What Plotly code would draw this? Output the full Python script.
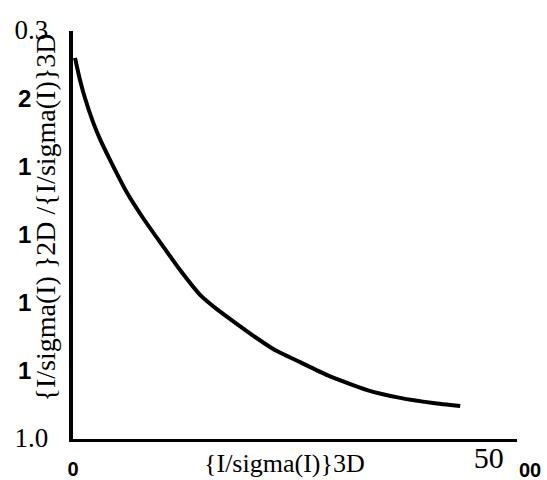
import plotly.graph_objects as go

# Curve data
x_vals = [0.24, 0.84, 1.44, 2.41, 3.25, 4.45, 6.50, 8.42, 10.47, 12.88, 15.28, 17.45,
          19.74, 21.90, 24.07, 27.32, 30.57, 35.38, 39.35, 43.32, 46.57]
y_vals = [2.121, 2.056, 2.003, 1.932, 1.882, 1.821, 1.724, 1.650, 1.579, 1.497, 1.424,
          1.379, 1.338, 1.300, 1.265, 1.226, 1.188, 1.144, 1.121, 1.106, 1.097]

# Axis ticks and labels (as printed in the figure)
y_tickvals = [1.0, 1.2, 1.4, 1.6, 1.8, 2.0, 2.2]
y_ticklabels = ["1.0", "1", "1", "1", "1", "2", "0.3"]
y_serif = [True, False, False, False, False, False, True]
x_tickvals = [0, 50]
x_ticklabels = ["0", "50"]
x_extra_label = "00"

x_title = "{I/sigma(I)}3D"
y_title = "{I/sigma(I) }2D /{I/sigma(I)}3D"

SERIF = "Liberation Serif"
SANS = "Liberation Sans"

y_ticktext = []
for lab, serif in zip(y_ticklabels, y_serif):
    if serif:
        y_ticktext.append(f"<span style='font-family:{SERIF};font-size:27px'>{lab}</span>")
    else:
        y_ticktext.append(f"<b>{lab}</b>" + "\u2002\u2009")

x_ticktext = [
    f"<b>{x_ticklabels[0]}</b>",
    f"<sup><span style='font-family:{SERIF};font-size:30px'>{x_ticklabels[1]}</span></sup>",
]

fig = go.Figure()
fig.add_trace(go.Scatter(
    x=x_vals, y=y_vals, mode="lines",
    line=dict(color="black", width=4, shape="spline", smoothing=0.6),
    showlegend=False, hoverinfo="skip",
))

fig.update_layout(
    width=547, height=480,
    margin=dict(l=73, r=30, t=31, b=41),
    paper_bgcolor="white", plot_bgcolor="white",
    font=dict(family=SANS, color="black"),
    xaxis=dict(
        range=[0, 53.4], showline=True, linewidth=3, linecolor="black",
        showgrid=False, zeroline=False, ticks="", automargin=False,
        tickvals=x_tickvals, ticktext=x_ticktext,
        tickfont=dict(family=SANS, size=20, color="black"),
        ticklabelstandoff=10,
    ),
    yaxis=dict(
        range=[1.0, 2.2], showline=True, linewidth=4, linecolor="black",
        showgrid=False, zeroline=False, ticks="", automargin=False,
        tickvals=y_tickvals, ticktext=y_ticktext,
        tickfont=dict(family=SANS, size=24, color="black"),
        ticklabelstandoff=16,
    ),
    annotations=[
        dict(text=x_title, xref="paper", yref="paper", x=0.477, y=-0.059,
             xanchor="center", yanchor="middle", showarrow=False,
             font=dict(family=SERIF, size=26, color="black")),
        dict(text=y_title, xref="paper", yref="paper", x=-0.063, y=0.543,
             xanchor="center", yanchor="middle", showarrow=False, textangle=-90,
             font=dict(family=SERIF, size=28, color="black")),
        dict(text=f"<b>{x_extra_label}</b>", xref="paper", yref="paper", x=1.029, y=-0.076,
             xanchor="center", yanchor="middle", showarrow=False,
             font=dict(family=SANS, size=20, color="black")),
    ],
)

fig.write_html("out.html")
